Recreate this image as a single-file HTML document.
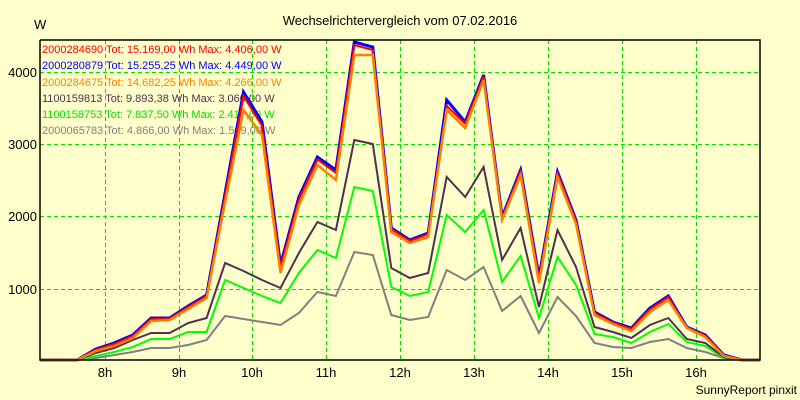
<!DOCTYPE html>
<html><head><meta charset="utf-8"><style>
html,body{margin:0;padding:0;background:#ffffcc;}
svg{display:block;font-family:"Liberation Sans",sans-serif;}
</style></head><body>
<svg id="s" width="800" height="400" xmlns="http://www.w3.org/2000/svg">
<rect width="800" height="400" fill="#ffffcc"/>
<text x="400" y="25" font-size="13" text-anchor="middle" fill="#000">Wechselrichtervergleich vom 07.02.2016</text>
<text x="34" y="29" font-size="13" fill="#000">W</text>
<g stroke="#00e000" stroke-width="1" stroke-dasharray="4,3">
<line x1="40" y1="72.5" x2="760" y2="72.5"/><line x1="40" y1="144.5" x2="760" y2="144.5"/>
<line x1="40" y1="216.5" x2="760" y2="216.5"/><line x1="40" y1="289.5" x2="760" y2="289.5"/>
<line x1="105.5" y1="40" x2="105.5" y2="360"/><line x1="179.5" y1="40" x2="179.5" y2="360"/>
<line x1="252.5" y1="40" x2="252.5" y2="360"/><line x1="326.5" y1="40" x2="326.5" y2="360"/>
<line x1="400.5" y1="40" x2="400.5" y2="360"/><line x1="474.5" y1="40" x2="474.5" y2="360"/>
<line x1="548.5" y1="40" x2="548.5" y2="360"/><line x1="622.5" y1="40" x2="622.5" y2="360"/>
<line x1="696.5" y1="40" x2="696.5" y2="360"/>
</g>
<g font-size="13" fill="#000" text-anchor="end">
<text x="37" y="77">4000</text><text x="37" y="149">3000</text><text x="37" y="221">2000</text><text x="37" y="294">1000</text>
</g>
<g font-size="13" fill="#000" text-anchor="middle">
<text x="105" y="377">8h</text><text x="179" y="377">9h</text><text x="252" y="377">10h</text><text x="326" y="377">11h</text>
<text x="400" y="377">12h</text><text x="474" y="377">13h</text><text x="548" y="377">14h</text><text x="622" y="377">15h</text><text x="696" y="377">16h</text>
</g>
<text x="797" y="394" font-size="12" text-anchor="end" fill="#000">SunnyReport pinxit</text>
<g font-size="11">
<text x="42" y="53" fill="#ff0000">2000284690 Tot: 15.169,00 Wh Max: 4.406,00 W</text>
<text x="42" y="69" fill="#0000ff">2000280879 Tot: 15.255,25 Wh Max: 4.449,00 W</text>
<text x="42" y="86" fill="#ff8000">2000284675 Tot: 14.682,25 Wh Max: 4.266,00 W</text>
<text x="42" y="102" fill="#503050">1100159813 Tot: 9.893,38 Wh Max: 3.060,00 W</text>
<text x="42" y="118" fill="#00e000">1100158753 Tot: 7.837,50 Wh Max: 2.417,00 W</text>
<text x="42" y="134" fill="#808080">2000065783 Tot: 4.866,00 Wh Max: 1.509,00 W</text>
</g>
<g id="lines" fill="none" stroke-linejoin="miter"></g>
<polyline points="40,40 40,360 760,360 760,40 40,40" fill="none" stroke="#000" stroke-width="1.5"/>
</svg>
<script>
var B=[349,343,335,318,318,306,295,193,92,122,265,197,157,170,42,47,228,240,233,100,122,75,217,170,277,172,220,312,322,328,308,296,327,335,355];
var O=[351,346,338,321,320,309,298,202,110,135,273,205,165,180,55,55,232,243,237,110,128,80,220,175,283,177,224,315,324,331,312,300,328,337,356];
var D=[353,348,340,333,333,323,318,263,271,280,288,253,222,230,140,144,268,278,273,177,197,167,260,228,307,230,267,327,332,338,325,318,339,343,357];
var G=[356,352,347,339,339,332,332,280,288,296,303,273,250,258,187,191,287,296,292,215,232,210,282,256,318,257,285,334,337,343,332,324,342,346,358];
var Y=[358,355,352,348,348,345,340,316,319,322,325,313,292,296,252,255,315,320,317,270,280,267,311,296,333,297,316,343,347,348,342,339,348,352,358];
var R=B.map(function(b,i){return b+(O[i]-b)*0.3;});R[8]=96;R[14]=45;R[15]=50;R[19]=106;
function pts(a){var s="40,360 77.3,360";for(var i=0;i<a.length;i++){s+=" "+(105+(i-0.5)*18.47).toFixed(1)+","+a[i];}s+=" 742,360 760,360";return s;}
var g=document.getElementById("lines");
[[Y,"#808080",2],[G,"#00ff00",2],[D,"#503050",2],[B,"#0000ff",3],[R,"#ff0000",2],[O,"#ff8000",2.5]].forEach(function(d){
var p=document.createElementNS("http://www.w3.org/2000/svg","polyline");p.setAttribute("points",pts(d[0]));p.setAttribute("stroke",d[1]);p.setAttribute("stroke-width",d[2]);g.appendChild(p);});
</script>
</body></html>
